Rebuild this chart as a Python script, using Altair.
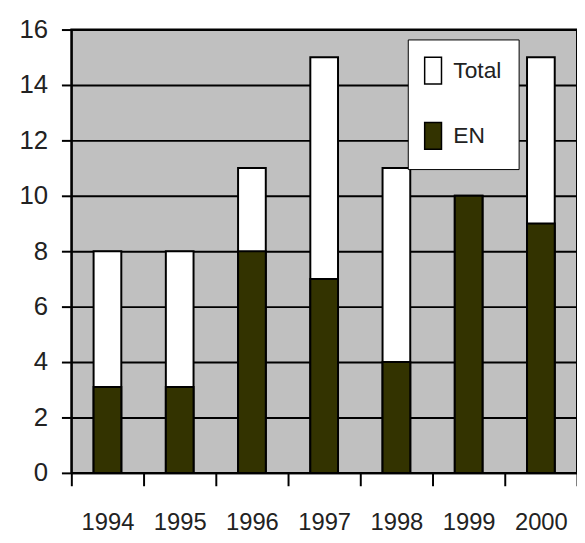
import altair as alt
import pandas as pd

years = ["1994", "1995", "1996", "1997", "1998", "1999", "2000"]
total = [8, 8, 11, 15, 11, 10, 15]
en = [3.1, 3.1, 8, 7, 4, 10, 9]
series = ["Total", "EN"]
colors = ["#ffffff", "#333300"]

rows = []
for s, vals in zip(series, [total, en]):
    for y, v in zip(years, vals):
        rows.append({"year": y, "series": s, "value": v})
df = pd.DataFrame(rows)

FONT = "Liberation Sans, Arial, sans-serif"

chart = alt.Chart(df).mark_bar(
    size=28, stroke="black", strokeWidth=2
).encode(
    x=alt.X("year:N", sort=years, title=None,
            scale=alt.Scale(paddingInner=0, paddingOuter=0),
            axis=alt.Axis(labelAngle=0, tickBand="extent", tickSize=13,
                          tickColor="black", tickWidth=2, domainColor="black",
                          domainWidth=2, labelPadding=25, labelFontSize=24,
                          labelFont=FONT, labelColor="#222222")),
    y=alt.Y("value:Q", stack=None, title=None,
            scale=alt.Scale(domain=[0, 16], nice=False),
            axis=alt.Axis(values=[0, 2, 4, 6, 8, 10, 12, 14, 16], tickSize=10,
                          tickColor="black", tickWidth=2, domainColor="black",
                          domainWidth=2, grid=True, gridColor="black",
                          gridWidth=2, gridOpacity=1, labelPadding=14,
                          labelFontSize=26, labelFont=FONT, labelColor="#222222")),
    color=alt.Color("series:N", sort=series,
                    scale=alt.Scale(domain=series, range=colors),
                    legend=alt.Legend(title=None, orient="none", legendX=340,
                                      legendY=10, fillColor="white",
                                      strokeColor="black", padding=17,
                                      symbolType="M-1.07,-1L0.19,-1L0.19,1L-1.07,1Z",
                                      symbolSize=729, symbolStrokeColor="black",
                                      symbolStrokeWidth=1.5, symbolOpacity=1,
                                      labelFont=FONT, labelFontSize=23,
                                      labelColor="#222222", rowPadding=33,
                                      labelOffset=0)),
    order=alt.Order("order:Q"),
).transform_calculate(
    order="datum.series === 'Total' ? 0 : 1"
).properties(
    width=511, height=448,
    autosize=alt.AutoSizeParams(type="none"),
    padding={"left": 64, "top": 19, "right": 0, "bottom": 60},
).configure_view(
    fill="#c0c0c0", stroke="black", strokeWidth=2
)

chart.save("out.html", embed_options={"renderer": "svg", "actions": False})
